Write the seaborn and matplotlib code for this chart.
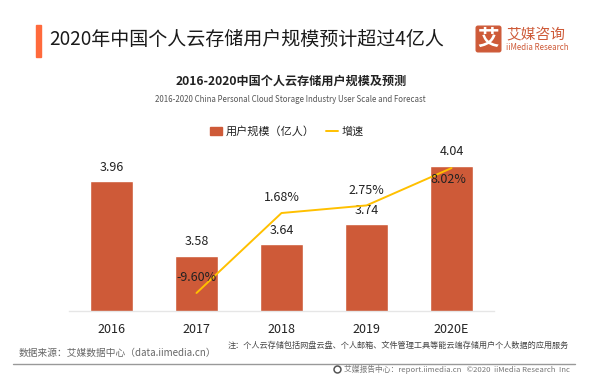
import matplotlib

matplotlib.use("Agg")
import matplotlib.pyplot as plt
from matplotlib.lines import Line2D
from matplotlib.patches import FancyBboxPatch, Patch, Rectangle
import pandas as pd
import seaborn as sns


YEARS = ["2016", "2017", "2018", "2019", "2020E"]
USERS = [3.96, 3.58, 3.64, 3.74, 4.04]
GROWTH = [None, -9.60, 1.68, 2.75, 8.02]

TITLE = "2020年中国个人云存储用户规模预计超过4亿人"
SUBTITLE = "2016-2020中国个人云存储用户规模及预测"
SUBTITLE_EN = "2016-2020 China Personal Cloud Storage Industry User Scale and Forecast"
SOURCE = "数据来源：艾媒数据中心（data.iimedia.cn）"
NOTE = "注：个人云存储包括网盘云盘、个人邮箱、文件管理工具等能云端存储用户个人数据的应用服务"
FOOTER = "艾媒报告中心：report.iimedia.cn   ©2020  iiMedia Research  Inc"

BAR_COLOR = "#CE5A38"
LINE_COLOR = "#FFC000"
ACCENT = "#FF6A3C"
W, H = 600, 384


def px_text(fig, x, y, text, **kwargs):
    kwargs.setdefault("va", "center")
    fig.text(x / W, 1 - y / H, text, **kwargs)


def add_header(fig):
    fig.add_artist(Rectangle((36 / W, 1 - 57 / H), 5 / W, 32 / H, color=ACCENT, transform=fig.transFigure))
    px_text(fig, 49, 39, TITLE, fontsize=13.7, color="#1a1a1a", fontweight="medium")
    px_text(fig, 291, 81, SUBTITLE, fontsize=8.7, color="#222222", fontweight="bold", ha="center")
    px_text(fig, 290.5, 99, SUBTITLE_EN, fontsize=5.67, color="#555555", ha="center")

    fig.add_artist(
        FancyBboxPatch(
            (478 / W, 1 - 50 / H),
            21 / W,
            22 / H,
            boxstyle="round,pad=0.003",
            mutation_aspect=W / H,
            color=BAR_COLOR,
            transform=fig.transFigure,
        )
    )
    px_text(fig, 488.5, 38, "艾", fontsize=15.5, color="white", fontweight="bold", ha="center")
    px_text(fig, 506, 35, "艾媒咨询", fontsize=10.6, color=BAR_COLOR, fontweight="medium")
    px_text(fig, 506, 48, "iiMedia Research", fontsize=5.7, color=BAR_COLOR)


def add_footer(fig):
    px_text(fig, 228, 345, NOTE, fontsize=5.87, color="#444444")
    px_text(fig, 19, 353, SOURCE, fontsize=7, color="#666666")
    fig.add_artist(Line2D([13 / W, 575 / W], [1 - 364 / H] * 2, color="#999999", lw=1, transform=fig.transFigure))
    fig.add_artist(
        Line2D(
            [337 / W],
            [1 - 369 / H],
            marker="o",
            markersize=5,
            mfc="white",
            mec="#555555",
            mew=1.1,
            transform=fig.transFigure,
        )
    )
    px_text(fig, 344, 369, FOOTER, fontsize=5.6, color="#777777")


def main():
    sns.set_theme(style="white")
    plt.rcParams["font.family"] = ["Noto Sans CJK SC", "DejaVu Sans"]

    df = pd.DataFrame({"year": YEARS, "users": USERS, "growth": GROWTH})

    fig = plt.figure(figsize=(6, 3.84), dpi=100, facecolor="white")
    ax = fig.add_axes([69 / W, 1 - 310.5 / H, 425 / W, 180.5 / H])

    sns.barplot(data=df, x="year", y="users", color=BAR_COLOR, saturation=1, width=0.5, ax=ax)
    ax.set_ylim(3.3, 4.223)
    ax.set_xlim(-0.5, 4.5)

    ax2 = ax.twinx()
    sns.lineplot(data=df, x="year", y="growth", color=LINE_COLOR, linewidth=1.4, ax=ax2, legend=False)
    ax2.set_ylim(-12.07, 13.39)

    for i, value in enumerate(USERS):
        ax.annotate(
            f"{value:.2f}",
            (i, value),
            xytext=(0, 14),
            textcoords="offset pixels",
            ha="center",
            va="center",
            fontsize=9,
            color="#222222",
        )

    # growth labels sit above the line, except the 2020E one inside its bar
    growth_offsets = {1: (0, 15), 2: (0, 16), 3: (0, 15), 4: (-3, -11)}
    for i, value in enumerate(GROWTH):
        if value is None:
            continue
        ax2.annotate(
            f"{value:.2f}%",
            (i, value),
            xytext=growth_offsets[i],
            textcoords="offset pixels",
            ha="center",
            va="center",
            fontsize=9,
            color="#222222",
        )

    for axis in (ax, ax2):
        axis.set_xlabel("")
        axis.set_ylabel("")
        axis.set_yticks([])
        for side in ("top", "left", "right"):
            axis.spines[side].set_visible(False)
    ax.spines["bottom"].set_color("#E6E6E6")
    ax.spines["bottom"].set_linewidth(1)
    ax2.spines["bottom"].set_visible(False)
    ax.tick_params(axis="x", length=0, pad=9, labelsize=9, labelcolor="#222222")

    handles = [
        Patch(color=BAR_COLOR, label="用户规模（亿人）"),
        Line2D([0], [0], color=LINE_COLOR, lw=1.4, label="增速"),
    ]
    fig.legend(
        handles=handles,
        loc="center",
        bbox_to_anchor=(287 / W, 1 - 131.5 / H),
        ncol=2,
        frameon=False,
        fontsize=8,
        handlelength=1.1,
        handletextpad=0.3,
        columnspacing=1.0,
        labelcolor="#222222",
    )

    add_header(fig)
    add_footer(fig)
    fig.savefig("out.png", dpi=100, facecolor="white")
    plt.close(fig)


if __name__ == "__main__":
    main()
